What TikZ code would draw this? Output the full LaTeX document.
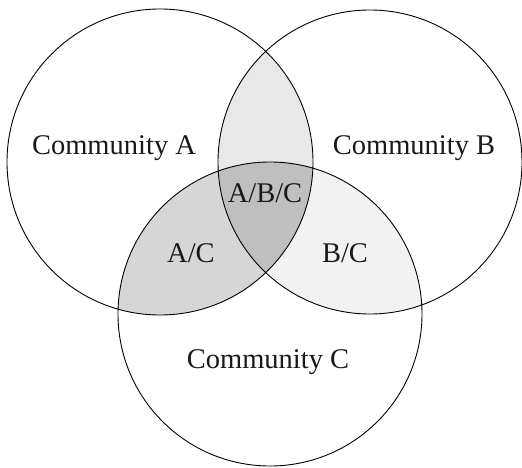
\documentclass[tikz,border=0pt]{standalone}
\usepackage{fontspec}
\setmainfont{Liberation Serif}
\begin{document}
\begin{tikzpicture}[x=1pt,y=-1pt,
  ring/.style={draw=black,line width=0.9pt},
  lbl/.style={font=\fontsize{28.5}{32}\selectfont,inner sep=0pt,text=black!90}]
\useasboundingbox (0,0) rectangle (522,468);
\def\circA{(160,162) circle[radius=153]}
\def\circB{(370,162) circle[radius=152]}
\def\circC{(270,314) circle[radius=152]}
\begin{scope}\clip \circA; \fill[black!9] \circB; \end{scope}
\begin{scope}\clip \circA; \fill[black!16] \circC; \end{scope}
\begin{scope}\clip \circB; \fill[black!5] \circC; \end{scope}
\begin{scope}\clip \circA; \clip \circB; \fill[black!25] \circC; \end{scope}
\draw[ring] \circA;
\draw[ring] \circB;
\draw[ring] \circC;
\node[lbl] (ca) at (114,148) {Community A};
\node[lbl] (cb) at (414,148) {Community B};
\node[lbl] (cc) at (268,362) {Community C};
\node[lbl] (abc) at (265,193) {A/B/C};
\node[lbl] (ac) at (191,253) {A/C};
\node[lbl] (bc) at (345,253) {B/C};
\end{tikzpicture}
\end{document}
